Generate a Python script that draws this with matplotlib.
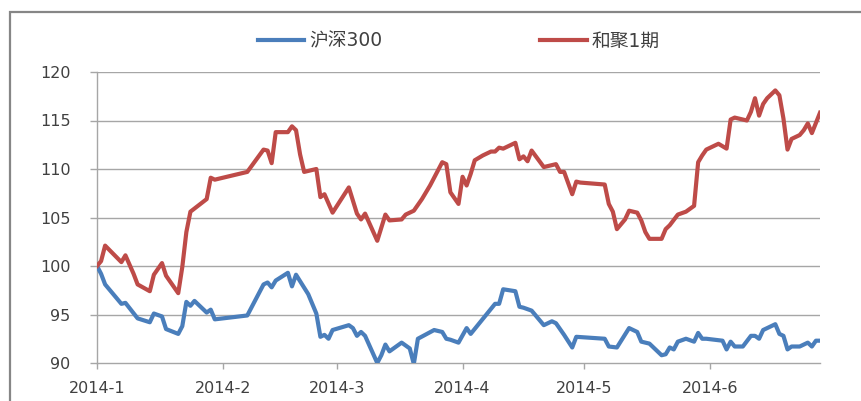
import matplotlib
matplotlib.use("Agg")
import matplotlib.pyplot as plt
from matplotlib.patches import Rectangle
import pandas as pd

plt.rcParams['font.family'] = ['DejaVu Sans', 'Noto Sans CJK SC']

series_names = ["沪深300", "和聚1期"]

hs300_dates = [
    "01-01", "01-02", "01-03", "01-07", "01-08", "01-11", "01-14", "01-15", "01-17", "01-18",
    "01-21", "01-22", "01-23", "01-24", "01-25", "01-28", "01-29", "01-30", "02-07", "02-11",
    "02-12", "02-13", "02-14", "02-17", "02-18", "02-19", "02-22", "02-24", "02-25", "02-26",
    "02-27", "02-28", "03-04", "03-05", "03-06", "03-07", "03-08", "03-11", "03-12", "03-13",
    "03-14", "03-17", "03-19", "03-20", "03-21", "03-25", "03-27", "03-28", "03-29", "03-31",
    "04-02", "04-03", "04-09", "04-10", "04-11", "04-14", "04-15", "04-16", "04-18", "04-21",
    "04-23", "04-24", "04-26", "04-28", "04-29", "05-06", "05-07", "05-09", "05-12", "05-14",
    "05-15", "05-17", "05-20", "05-21", "05-22", "05-23", "05-24", "05-26", "05-28", "05-29",
    "05-30", "05-31", "06-04", "06-05", "06-06", "06-07", "06-09", "06-11", "06-12", "06-13",
    "06-14", "06-17", "06-18", "06-19", "06-20", "06-21", "06-23", "06-25", "06-26", "06-27",
    "06-28",
]
hs300_values = [
    100.0, 99.2, 98.1, 96.1, 96.2, 94.6, 94.2, 95.1, 94.8, 93.5,
    93.0, 93.8, 96.3, 95.9, 96.4, 95.2, 95.5, 94.5, 94.9, 98.1,
    98.3, 97.8, 98.5, 99.3, 97.9, 99.1, 97.1, 95.1, 92.7, 92.9,
    92.5, 93.4, 93.9, 93.6, 92.8, 93.2, 92.8, 90.0, 90.8, 91.9,
    91.2, 92.1, 91.5, 89.9, 92.5, 93.4, 93.2, 92.5, 92.4, 92.1,
    93.6, 93.0, 96.1, 96.1, 97.6, 97.4, 95.8, 95.7, 95.4, 93.9,
    94.3, 94.1, 92.9, 91.6, 92.7, 92.5, 91.7, 91.6, 93.6, 93.2,
    92.2, 92.0, 90.8, 90.9, 91.6, 91.4, 92.2, 92.5, 92.2, 93.1,
    92.5, 92.5, 92.3, 91.4, 92.2, 91.7, 91.7, 92.8, 92.8, 92.5,
    93.4, 94.0, 93.0, 92.8, 91.4, 91.7, 91.7, 92.1, 91.7, 92.3,
    92.3,
]

hejv_dates = [
    "01-01", "01-02", "01-03", "01-07", "01-08", "01-10", "01-11", "01-14", "01-15", "01-17",
    "01-18", "01-21", "01-22", "01-23", "01-24", "01-28", "01-29", "01-30", "02-07", "02-11",
    "02-12", "02-13", "02-14", "02-17", "02-18", "02-19", "02-20", "02-21", "02-24", "02-25",
    "02-26", "02-28", "03-04", "03-06", "03-07", "03-08", "03-11", "03-13", "03-14", "03-17",
    "03-18", "03-20", "03-22", "03-24", "03-27", "03-28", "03-29", "03-31", "04-01", "04-02",
    "04-03", "04-04", "04-06", "04-08", "04-09", "04-10", "04-11", "04-14", "04-15", "04-16",
    "04-17", "04-18", "04-21", "04-24", "04-25", "04-26", "04-28", "04-29", "04-30", "05-06",
    "05-07", "05-08", "05-09", "05-11", "05-12", "05-14", "05-15", "05-16", "05-17", "05-20",
    "05-21", "05-22", "05-24", "05-26", "05-28", "05-29", "05-30", "05-31", "06-03", "06-05",
    "06-06", "06-07", "06-10", "06-11", "06-12", "06-13", "06-14", "06-15", "06-17", "06-18",
    "06-19", "06-20", "06-21", "06-23", "06-24", "06-25", "06-26", "06-28",
]
hejv_values = [
    100.0, 100.5, 102.1, 100.4, 101.1, 99.2, 98.1, 97.4, 99.1, 100.3,
    99.0, 97.2, 99.9, 103.5, 105.6, 106.9, 109.1, 108.9, 109.7, 112.0,
    111.9, 110.6, 113.8, 113.8, 114.4, 114.0, 111.5, 109.7, 110.0, 107.1,
    107.4, 105.5, 108.1, 105.4, 104.8, 105.4, 102.6, 105.3, 104.7, 104.8,
    105.3, 105.7, 106.9, 108.3, 110.7, 110.5, 107.6, 106.4, 109.2, 108.3,
    109.5, 110.9, 111.4, 111.8, 111.8, 112.2, 112.1, 112.7, 111.0, 111.3,
    110.8, 111.9, 110.2, 110.5, 109.7, 109.7, 107.4, 108.7, 108.6, 108.4,
    106.4, 105.6, 103.8, 104.8, 105.7, 105.5, 104.7, 103.5, 102.8, 102.8,
    103.8, 104.2, 105.3, 105.6, 106.2, 110.7, 111.4, 112.0, 112.6, 112.1,
    115.1, 115.3, 115.0, 115.9, 117.3, 115.5, 116.7, 117.3, 118.1, 117.6,
    115.2, 112.0, 113.1, 113.5, 114.0, 114.7, 113.7, 115.8,
]

month_ticks = ["2014-01-01", "2014-02-01", "2014-03-01", "2014-04-01", "2014-05-01", "2014-06-01"]
month_labels = ["2014-1", "2014-2", "2014-3", "2014-4", "2014-5", "2014-6"]
y_ticks = [90, 95, 100, 105, 110, 115, 120]

hs_x = pd.to_datetime(["2014-" + d for d in hs300_dates])
hj_x = pd.to_datetime(["2014-" + d for d in hejv_dates])

W, H = 861, 401
fig = plt.figure(figsize=(W / 100, H / 100), dpi=100)
fig.patch.set_facecolor("white")

# outer chart border (clipped at right/bottom)
fig.patches.append(Rectangle((10 / W, -0.05), 1.2, (H - 12) / H + 0.05, fill=False,
                             edgecolor="#868686", linewidth=1.6, transform=fig.transFigure))

ax = fig.add_axes([97 / W, 1 - 363 / H, (820 - 97) / W, (363 - 72) / H])

grid_c = "#a6a6a6"
for yv in y_ticks[1:]:
    ax.axhline(yv, color=grid_c, lw=1.0, zorder=1)

blue = "#4A7EBB"
red = "#BE4B48"
l1, = ax.plot(hs_x, hs300_values, color=blue, lw=3.0, solid_joinstyle="round", zorder=3,
              label=series_names[0])
l2, = ax.plot(hj_x, hejv_values, color=red, lw=3.0, solid_joinstyle="round", zorder=3,
              label=series_names[1])

ax.set_ylim(90, 120)
ax.set_xlim(pd.Timestamp("2014-01-01"), pd.Timestamp("2014-06-28"))
ax.set_yticks(y_ticks)
ax.set_yticklabels([str(v) for v in y_ticks])
ax.set_xticks(pd.to_datetime(month_ticks))
ax.set_xticklabels(month_labels)

for s in ["top", "right"]:
    ax.spines[s].set_visible(False)
for s in ["left", "bottom"]:
    ax.spines[s].set_color(grid_c)
    ax.spines[s].set_linewidth(1.0)

txt_c = "#404040"
ax.tick_params(axis="y", direction="out", length=5, width=1, color=grid_c,
               labelsize=11.5, labelcolor=txt_c, pad=14)
ax.tick_params(axis="x", direction="out", length=4, width=1, color=grid_c,
               labelsize=11.5, labelcolor=txt_c, pad=9)

leg = fig.legend(handles=[l1, l2], loc="center", bbox_to_anchor=(458.5 / W, 1 - 41 / H),
                 ncol=2, frameon=False, fontsize=13.5, handlelength=2.5, handletextpad=0.25,
                 columnspacing=8.4, labelcolor=txt_c)

fig.savefig("out.png", dpi=100, facecolor="white")
